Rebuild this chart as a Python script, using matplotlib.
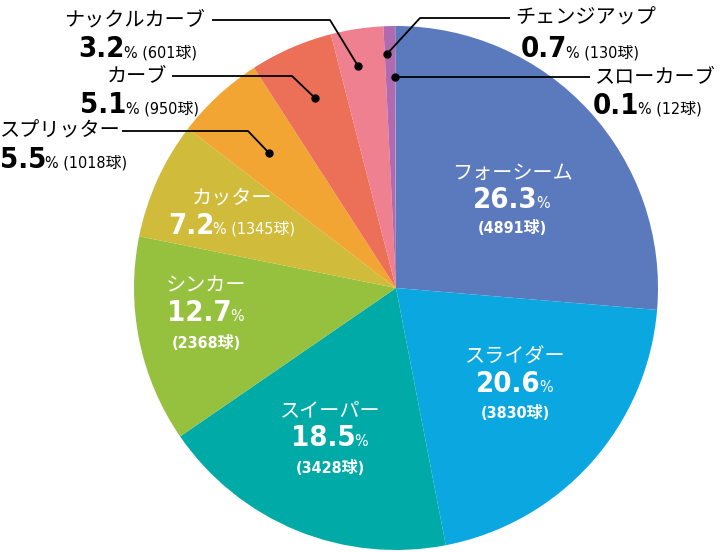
import numpy as np
import matplotlib.pyplot as plt

plt.rcParams['font.family'] = ['Noto Sans CJK JP', 'DejaVu Sans']

# 球種データ
names = ['フォーシーム', 'スライダー', 'スイーパー', 'シンカー', 'カッター',
         'スプリッター', 'カーブ', 'ナックルカーブ', 'チェンジアップ', 'スローカーブ']
counts = [4891, 3830, 3428, 2368, 1345, 1018, 950, 601, 130, 12]
pcts = ['26.3', '20.6', '18.5', '12.7', '7.2', '5.5', '5.1', '3.2', '0.7', '0.1']
colors = ['#5b79bd', '#0aa7e1', '#00aba7', '#96c13e', '#d0bb3a',
          '#f3a533', '#ec6f57', '#ee8090', '#b06aaf', '#9b8ac6']

W, H = 720, 552
cx, cy, R = 396, 552 - 288, 262

fig = plt.figure(figsize=(W / 100, H / 100), dpi=100)
ax = fig.add_axes([0, 0, 1, 1])

wedges, _ = ax.pie(counts, colors=colors, startangle=90, counterclock=False,
                   center=(cx, cy), radius=R, frame=True,
                   wedgeprops=dict(linewidth=0))
ax.set_xlim(0, W)
ax.set_ylim(0, H)
ax.set_aspect('equal')
ax.axis('off')

numfont = ['DejaVu Sans', 'Noto Sans CJK JP']
r = fig.canvas.get_renderer()


def Y(y):
    return H - y


def value_line(x, y, i, color, ha='center', count_inline=True, big=21):
    # 大きな数字 + 小さな% (+ 球数)
    num = pcts[i]
    suffix = '%' + (' (%d球)' % counts[i] if count_inline else '')
    t1 = ax.text(0, 0, num, fontsize=big, fontweight='bold', family=numfont,
                 fontstretch='condensed', color=color, va='baseline')
    t2 = ax.text(0, 0, suffix, fontsize=11.5, family=numfont,
                 fontstretch='condensed', color=color, va='baseline')
    w1 = t1.get_window_extent(r).width
    w2 = t2.get_window_extent(r).width
    tot = w1 + w2
    if ha == 'center':
        x0 = x - tot / 2
    elif ha == 'left':
        x0 = x
    else:
        x0 = x - tot
    t1.set_position((x0, Y(y)))
    t2.set_position((x0 + w1 - 1, Y(y)))


# 円の内側のラベル
inner = {0: (512, 173, 208, 228), 1: (515, 356, 392, 413),
         2: (330, 411, 446, 468), 3: (206, 286, 321, 343)}
for i, (x, yn, yv, yc) in inner.items():
    ax.text(x, Y(yn), names[i], fontsize=14.5, color='white', ha='center', va='center')
    value_line(x, yv, i, 'white', count_inline=False)
    ax.text(x, Y(yc), '(%d球)' % counts[i], fontsize=11.5, family=numfont,
            fontstretch='condensed', fontweight='bold',
            color='white', ha='center', va='center')

ax.text(232, Y(198), names[4], fontsize=14.5, color='white', ha='center', va='center')
value_line(232, 234, 4, 'white')

# 引き出し線つきのラベル
callouts = [
    # idx, name x, name y, name ha, line pts, value x, value y, value ha
    (7, 205, 20, 'right', [(212, 20), (330, 20), (358, 66)], 138, 57, 'center'),
    (6, 167, 76, 'right', [(172, 76), (292, 76), (315, 98)], 140, 113, 'center'),
    (5, 0, 131, 'left', [(122, 131), (248, 131), (269, 153)], 0, 168, 'left'),
    (8, 515, 18, 'left', [(510, 18), (420, 18), (387, 54)], 580, 57, 'center'),
    (9, 595, 77, 'left', [(590, 77), (395, 77)], 648, 114, 'center'),
]
for i, nx, ny, nha, pts, vx, vy, vha in callouts:
    ax.text(nx, Y(ny), names[i], fontsize=14.5, color='black', ha=nha, va='center')
    xs = [p[0] for p in pts]
    ys = [Y(p[1]) for p in pts]
    ax.plot(xs, ys, color='black', lw=1.3, solid_capstyle='butt')
    ax.plot(xs[-1], ys[-1], 'o', color='black', ms=5)
    value_line(vx, vy, i, 'black', ha=vha)

fig.savefig('out.png', dpi=100)
